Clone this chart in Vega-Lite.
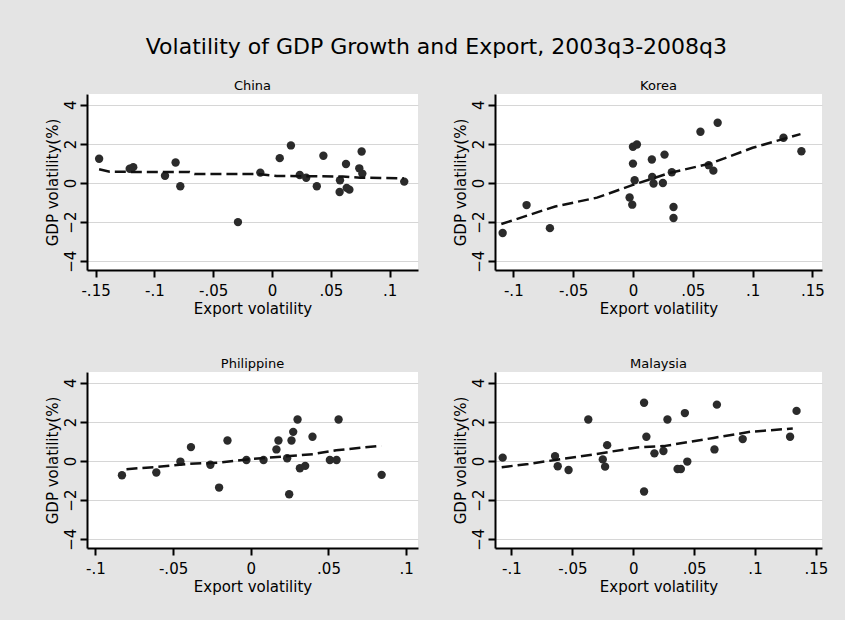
{
  "$schema": "https://vega.github.io/schema/vega-lite/v6.json",
  "padding": {"left": 45, "top": 36, "right": 20, "bottom": 26},
  "title": {"text": "Volatility of GDP Growth and Export, 2003q3-2008q3", "fontSize": 22, "fontWeight": "normal", "anchor": "middle", "offset": 21, "color": "black"},
  "datasets": {
    "d": [
      {"country": "China", "kind": "pt", "export": -0.147, "gdp": 1.24},
      {"country": "China", "kind": "pt", "export": -0.121, "gdp": 0.73},
      {"country": "China", "kind": "pt", "export": -0.118, "gdp": 0.81},
      {"country": "China", "kind": "pt", "export": -0.091, "gdp": 0.37},
      {"country": "China", "kind": "pt", "export": -0.082, "gdp": 1.05},
      {"country": "China", "kind": "pt", "export": -0.078, "gdp": -0.17},
      {"country": "China", "kind": "pt", "export": -0.029, "gdp": -2.0},
      {"country": "China", "kind": "pt", "export": -0.010, "gdp": 0.53},
      {"country": "China", "kind": "pt", "export": 0.0065, "gdp": 1.27},
      {"country": "China", "kind": "pt", "export": 0.016, "gdp": 1.92},
      {"country": "China", "kind": "pt", "export": 0.0235, "gdp": 0.41},
      {"country": "China", "kind": "pt", "export": 0.029, "gdp": 0.27},
      {"country": "China", "kind": "pt", "export": 0.038, "gdp": -0.17},
      {"country": "China", "kind": "pt", "export": 0.0436, "gdp": 1.39},
      {"country": "China", "kind": "pt", "export": 0.0577, "gdp": 0.14},
      {"country": "China", "kind": "pt", "export": 0.0574, "gdp": -0.46},
      {"country": "China", "kind": "pt", "export": 0.0628, "gdp": 0.97},
      {"country": "China", "kind": "pt", "export": 0.0634, "gdp": -0.25},
      {"country": "China", "kind": "pt", "export": 0.0657, "gdp": -0.34},
      {"country": "China", "kind": "pt", "export": 0.0761, "gdp": 1.61},
      {"country": "China", "kind": "pt", "export": 0.0741, "gdp": 0.75},
      {"country": "China", "kind": "pt", "export": 0.0767, "gdp": 0.48},
      {"country": "China", "kind": "pt", "export": 0.1123, "gdp": 0.07},
      {"country": "China", "kind": "fit", "export": -0.147, "gdp": 0.70},
      {"country": "China", "kind": "fit", "export": -0.138, "gdp": 0.57},
      {"country": "China", "kind": "fit", "export": -0.07, "gdp": 0.56},
      {"country": "China", "kind": "fit", "export": -0.066, "gdp": 0.46},
      {"country": "China", "kind": "fit", "export": -0.012, "gdp": 0.46},
      {"country": "China", "kind": "fit", "export": 0.004, "gdp": 0.36},
      {"country": "China", "kind": "fit", "export": 0.06, "gdp": 0.33},
      {"country": "China", "kind": "fit", "export": 0.075, "gdp": 0.27},
      {"country": "China", "kind": "fit", "export": 0.112, "gdp": 0.24},

      {"country": "Korea", "kind": "pt", "export": -0.1089, "gdp": -2.56},
      {"country": "Korea", "kind": "pt", "export": -0.0889, "gdp": -1.13},
      {"country": "Korea", "kind": "pt", "export": -0.0694, "gdp": -2.31},
      {"country": "Korea", "kind": "pt", "export": -0.0028, "gdp": -0.74},
      {"country": "Korea", "kind": "pt", "export": -0.0006, "gdp": -1.11},
      {"country": "Korea", "kind": "pt", "export": 0.0, "gdp": 0.99},
      {"country": "Korea", "kind": "pt", "export": 0.0, "gdp": 1.85},
      {"country": "Korea", "kind": "pt", "export": 0.0033, "gdp": 1.97},
      {"country": "Korea", "kind": "pt", "export": 0.0014, "gdp": 0.14},
      {"country": "Korea", "kind": "pt", "export": 0.0158, "gdp": 1.20},
      {"country": "Korea", "kind": "pt", "export": 0.0161, "gdp": 0.31},
      {"country": "Korea", "kind": "pt", "export": 0.0172, "gdp": -0.03},
      {"country": "Korea", "kind": "pt", "export": 0.025, "gdp": 0.0},
      {"country": "Korea", "kind": "pt", "export": 0.0264, "gdp": 1.45},
      {"country": "Korea", "kind": "pt", "export": 0.0325, "gdp": 0.55},
      {"country": "Korea", "kind": "pt", "export": 0.0339, "gdp": -1.23},
      {"country": "Korea", "kind": "pt", "export": 0.0339, "gdp": -1.79},
      {"country": "Korea", "kind": "pt", "export": 0.0564, "gdp": 2.62},
      {"country": "Korea", "kind": "pt", "export": 0.0633, "gdp": 0.91},
      {"country": "Korea", "kind": "pt", "export": 0.0672, "gdp": 0.63},
      {"country": "Korea", "kind": "pt", "export": 0.0708, "gdp": 3.08},
      {"country": "Korea", "kind": "pt", "export": 0.1258, "gdp": 2.31},
      {"country": "Korea", "kind": "pt", "export": 0.1408, "gdp": 1.62},
      {"country": "Korea", "kind": "fit", "export": -0.11, "gdp": -2.1},
      {"country": "Korea", "kind": "fit", "export": -0.065, "gdp": -1.2},
      {"country": "Korea", "kind": "fit", "export": -0.03, "gdp": -0.75},
      {"country": "Korea", "kind": "fit", "export": 0.0, "gdp": -0.1},
      {"country": "Korea", "kind": "fit", "export": 0.03, "gdp": 0.5},
      {"country": "Korea", "kind": "fit", "export": 0.065, "gdp": 1.0},
      {"country": "Korea", "kind": "fit", "export": 0.1, "gdp": 1.8},
      {"country": "Korea", "kind": "fit", "export": 0.14, "gdp": 2.5},

      {"country": "Philippine", "kind": "pt", "export": -0.0829, "gdp": -0.73},
      {"country": "Philippine", "kind": "pt", "export": -0.0608, "gdp": -0.59},
      {"country": "Philippine", "kind": "pt", "export": -0.0453, "gdp": -0.03},
      {"country": "Philippine", "kind": "pt", "export": -0.0385, "gdp": 0.71},
      {"country": "Philippine", "kind": "pt", "export": -0.026, "gdp": -0.19},
      {"country": "Philippine", "kind": "pt", "export": -0.0204, "gdp": -1.36},
      {"country": "Philippine", "kind": "pt", "export": -0.015, "gdp": 1.05},
      {"country": "Philippine", "kind": "pt", "export": -0.0028, "gdp": 0.05},
      {"country": "Philippine", "kind": "pt", "export": 0.0082, "gdp": 0.05},
      {"country": "Philippine", "kind": "pt", "export": 0.0165, "gdp": 0.59},
      {"country": "Philippine", "kind": "pt", "export": 0.0178, "gdp": 1.05},
      {"country": "Philippine", "kind": "pt", "export": 0.0234, "gdp": 0.14},
      {"country": "Philippine", "kind": "pt", "export": 0.0247, "gdp": -1.70},
      {"country": "Philippine", "kind": "pt", "export": 0.0262, "gdp": 1.05},
      {"country": "Philippine", "kind": "pt", "export": 0.0273, "gdp": 1.49},
      {"country": "Philippine", "kind": "pt", "export": 0.0301, "gdp": 2.12},
      {"country": "Philippine", "kind": "pt", "export": 0.0316, "gdp": -0.37},
      {"country": "Philippine", "kind": "pt", "export": 0.035, "gdp": -0.25},
      {"country": "Philippine", "kind": "pt", "export": 0.0397, "gdp": 1.24},
      {"country": "Philippine", "kind": "pt", "export": 0.0509, "gdp": 0.05},
      {"country": "Philippine", "kind": "pt", "export": 0.0552, "gdp": 0.05},
      {"country": "Philippine", "kind": "pt", "export": 0.0565, "gdp": 2.12},
      {"country": "Philippine", "kind": "pt", "export": 0.0842, "gdp": -0.71},
      {"country": "Philippine", "kind": "fit", "export": -0.08, "gdp": -0.42},
      {"country": "Philippine", "kind": "fit", "export": -0.06, "gdp": -0.3},
      {"country": "Philippine", "kind": "fit", "export": -0.04, "gdp": -0.15},
      {"country": "Philippine", "kind": "fit", "export": -0.02, "gdp": -0.08},
      {"country": "Philippine", "kind": "fit", "export": 0.0, "gdp": 0.1},
      {"country": "Philippine", "kind": "fit", "export": 0.02, "gdp": 0.22},
      {"country": "Philippine", "kind": "fit", "export": 0.04, "gdp": 0.35},
      {"country": "Philippine", "kind": "fit", "export": 0.055, "gdp": 0.55},
      {"country": "Philippine", "kind": "fit", "export": 0.084, "gdp": 0.78},

      {"country": "Malaysia", "kind": "pt", "export": -0.1072, "gdp": 0.17},
      {"country": "Malaysia", "kind": "pt", "export": -0.0642, "gdp": 0.25},
      {"country": "Malaysia", "kind": "pt", "export": -0.062, "gdp": -0.27},
      {"country": "Malaysia", "kind": "pt", "export": -0.0531, "gdp": -0.46},
      {"country": "Malaysia", "kind": "pt", "export": -0.0369, "gdp": 2.12},
      {"country": "Malaysia", "kind": "pt", "export": -0.025, "gdp": 0.08},
      {"country": "Malaysia", "kind": "pt", "export": -0.0231, "gdp": -0.29},
      {"country": "Malaysia", "kind": "pt", "export": -0.0214, "gdp": 0.81},
      {"country": "Malaysia", "kind": "pt", "export": 0.0089, "gdp": 2.98},
      {"country": "Malaysia", "kind": "pt", "export": 0.0089, "gdp": -1.56},
      {"country": "Malaysia", "kind": "pt", "export": 0.0108, "gdp": 1.24},
      {"country": "Malaysia", "kind": "pt", "export": 0.0174, "gdp": 0.39},
      {"country": "Malaysia", "kind": "pt", "export": 0.0248, "gdp": 0.51},
      {"country": "Malaysia", "kind": "pt", "export": 0.0281, "gdp": 2.12},
      {"country": "Malaysia", "kind": "pt", "export": 0.0364, "gdp": -0.41},
      {"country": "Malaysia", "kind": "pt", "export": 0.0391, "gdp": -0.41},
      {"country": "Malaysia", "kind": "pt", "export": 0.0424, "gdp": 2.45},
      {"country": "Malaysia", "kind": "pt", "export": 0.0444, "gdp": -0.03},
      {"country": "Malaysia", "kind": "pt", "export": 0.0667, "gdp": 0.59},
      {"country": "Malaysia", "kind": "pt", "export": 0.0687, "gdp": 2.88},
      {"country": "Malaysia", "kind": "pt", "export": 0.0899, "gdp": 1.12},
      {"country": "Malaysia", "kind": "pt", "export": 0.1288, "gdp": 1.24},
      {"country": "Malaysia", "kind": "pt", "export": 0.1341, "gdp": 2.56},
      {"country": "Malaysia", "kind": "fit", "export": -0.108, "gdp": -0.32},
      {"country": "Malaysia", "kind": "fit", "export": -0.086, "gdp": -0.15},
      {"country": "Malaysia", "kind": "fit", "export": -0.064, "gdp": 0.05},
      {"country": "Malaysia", "kind": "fit", "export": -0.03, "gdp": 0.36},
      {"country": "Malaysia", "kind": "fit", "export": 0.003, "gdp": 0.69},
      {"country": "Malaysia", "kind": "fit", "export": 0.025, "gdp": 0.76},
      {"country": "Malaysia", "kind": "fit", "export": 0.066, "gdp": 1.18},
      {"country": "Malaysia", "kind": "fit", "export": 0.096, "gdp": 1.49},
      {"country": "Malaysia", "kind": "fit", "export": 0.131, "gdp": 1.66}
    ]
  },
  "data": {"name": "d"},
  "columns": 2,
  "bounds": "flush",
  "spacing": {"row": 102, "column": 77},
  "concat": [
    {
      "title": "China",
      "width": 331, "height": 176,
      "transform": [{"filter": "datum.country == 'China'"}],
      "encoding": {
        "x": {"field": "export", "type": "quantitative", "scale": {"domain": [-0.1573, 0.124], "nice": false, "zero": false},
              "axis": {"values": [-0.15, -0.1, -0.05, 0, 0.05, 0.1], "title": "Export volatility"}},
        "y": {"field": "gdp", "type": "quantitative", "scale": {"domain": [-4.45, 4.55], "nice": false},
              "axis": {"values": [-4, -2, 0, 2, 4], "title": "GDP volatility(%)"}}
      },
      "layer": [
        {"transform": [{"filter": "datum.kind == 'pt'"}], "mark": {"type": "circle", "size": 70, "color": "#2b2b2b", "opacity": 1}},
        {"transform": [{"filter": "datum.kind == 'fit'"}], "mark": {"type": "line", "strokeDash": [11, 5], "strokeWidth": 2.5, "color": "#111111"}}
      ]
    },
    {
      "title": "Korea",
      "width": 327, "height": 176,
      "transform": [{"filter": "datum.country == 'Korea'"}],
      "encoding": {
        "x": {"field": "export", "type": "quantitative", "scale": {"domain": [-0.1153, 0.158], "nice": false, "zero": false},
              "axis": {"values": [-0.1, -0.05, 0, 0.05, 0.1, 0.15], "title": "Export volatility"}},
        "y": {"field": "gdp", "type": "quantitative", "scale": {"domain": [-4.45, 4.55], "nice": false},
              "axis": {"values": [-4, -2, 0, 2, 4], "title": "GDP volatility(%)"}}
      },
      "layer": [
        {"transform": [{"filter": "datum.kind == 'pt'"}], "mark": {"type": "circle", "size": 70, "color": "#2b2b2b", "opacity": 1}},
        {"transform": [{"filter": "datum.kind == 'fit'"}], "mark": {"type": "line", "strokeDash": [11, 5], "strokeWidth": 2.5, "color": "#111111"}}
      ]
    },
    {
      "title": "Philippine",
      "width": 331, "height": 176,
      "transform": [{"filter": "datum.country == 'Philippine'"}],
      "encoding": {
        "x": {"field": "export", "type": "quantitative", "scale": {"domain": [-0.1054, 0.1076], "nice": false, "zero": false},
              "axis": {"values": [-0.1, -0.05, 0, 0.05, 0.1], "title": "Export volatility"}},
        "y": {"field": "gdp", "type": "quantitative", "scale": {"domain": [-4.45, 4.55], "nice": false},
              "axis": {"values": [-4, -2, 0, 2, 4], "title": "GDP volatility(%)"}}
      },
      "layer": [
        {"transform": [{"filter": "datum.kind == 'pt'"}], "mark": {"type": "circle", "size": 70, "color": "#2b2b2b", "opacity": 1}},
        {"transform": [{"filter": "datum.kind == 'fit'"}], "mark": {"type": "line", "strokeDash": [11, 5], "strokeWidth": 2.5, "color": "#111111"}}
      ]
    },
    {
      "title": "Malaysia",
      "width": 327, "height": 176,
      "transform": [{"filter": "datum.country == 'Malaysia'"}],
      "encoding": {
        "x": {"field": "export", "type": "quantitative", "scale": {"domain": [-0.1135, 0.155], "nice": false, "zero": false},
              "axis": {"values": [-0.1, -0.05, 0, 0.05, 0.1, 0.15], "title": "Export volatility"}},
        "y": {"field": "gdp", "type": "quantitative", "scale": {"domain": [-4.45, 4.55], "nice": false},
              "axis": {"values": [-4, -2, 0, 2, 4], "title": "GDP volatility(%)"}}
      },
      "layer": [
        {"transform": [{"filter": "datum.kind == 'pt'"}], "mark": {"type": "circle", "size": 70, "color": "#2b2b2b", "opacity": 1}},
        {"transform": [{"filter": "datum.kind == 'fit'"}], "mark": {"type": "line", "strokeDash": [11, 5], "strokeWidth": 2.5, "color": "#111111"}}
      ]
    }
  ],
  "config": {
    "background": "#e4e4e4",
    "font": "DejaVu Sans",
    "view": {"fill": "white", "stroke": null},
    "axis": {
      "domainColor": "black", "domainWidth": 2, "tickColor": "black", "tickWidth": 2, "tickSize": 7,
      "labelColor": "black", "titleColor": "black", "labelFontSize": 15, "titleFontSize": 15, "titleFontWeight": "normal",
      "grid": false, "labelPadding": 6, "titlePadding": 3,
      "labelExpr": "replace(replace(format(datum.value, '.2~f'), '0.', '.'), '\u2212', '-')"
    },
    "axisY": {"grid": true, "gridColor": "#d6d6d6", "gridWidth": 1, "labelAngle": -90, "labelAlign": "center", "labelBaseline": "bottom", "labelPadding": 2, "labelExpr": "format(datum.value, 'd')", "titlePadding": 3},
    "title": {"fontSize": 13, "fontWeight": "normal", "color": "black", "offset": 1}
  }
}
